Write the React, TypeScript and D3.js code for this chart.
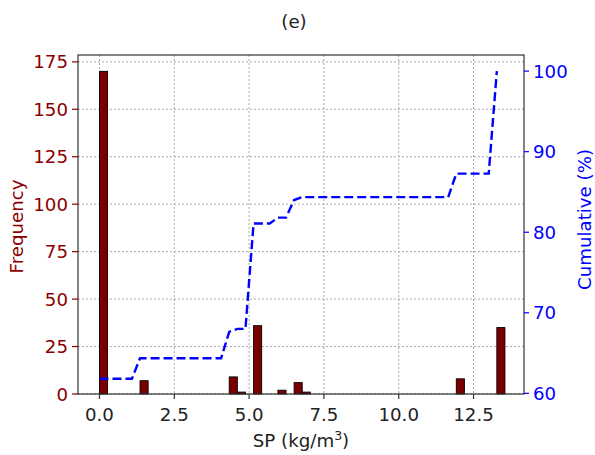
import React from "react";
import * as d3 from "d3";

// Histogram counts: 50 equal bins from 0 to 13.55 kg/m3
const binMin = 0;
const binMax = 13.55;
const counts: number[] = [
  170, 0, 0, 0, 0, 7, 0, 0, 0, 0,
  0, 0, 0, 0, 0, 0, 9, 1, 0, 36,
  0, 0, 2, 0, 6, 1, 0, 0, 0, 0,
  0, 0, 0, 0, 0, 0, 0, 0, 0, 0,
  0, 0, 0, 0, 8, 0, 0, 0, 0, 35,
];
const xTicks = [0, 2.5, 5, 7.5, 10, 12.5];
const yLeftTicks = [0, 25, 50, 75, 100, 125, 150, 175];
const yRightTicks = [60, 70, 80, 90, 100];

const W = 595;
const H = 455;
const L = 78;
const R = 524;
const T = 55;
const B = 394;
const FONT = "DejaVu Sans, sans-serif";
const FS = 18.2;
const RED = "#8b0000";
const BLUE = "#0000ff";

export default function App() {
  const n = counts.length;
  const bw = (binMax - binMin) / n;
  const edges = counts.map((_, i) => binMin + i * bw);
  const total = d3.sum(counts);
  const cum = Array.from(d3.cumsum(counts)).map((c) => (c / total) * 100);

  const span = binMax - binMin;
  const x = d3.scaleLinear().domain([binMin - 0.053 * span, binMax + 0.047 * span]).range([L, R]);
  const yL = d3.scaleLinear().domain([0, 178.6]).range([B, T]);
  const yR = d3.scaleLinear().domain([59.92, 102.0]).range([B, T]);

  const line = d3
    .line<number>()
    .x((_, i) => x(edges[i]))
    .y((d) => yR(d));

  return (
    <svg width={W} height={H} style={{ position: "absolute", left: 0, top: 0 }} fontFamily={FONT}>
      <rect x={0} y={0} width={W} height={H} fill="#fff" />
      {/* grid */}
      {xTicks.map((t) => (
        <line key={"gx" + t} x1={x(t)} x2={x(t)} y1={T} y2={B} stroke="#a8a8a8" strokeWidth={1} strokeDasharray="2,2" />
      ))}
      {yLeftTicks.map((t) => (
        <line key={"gy" + t} x1={L} x2={R} y1={yL(t)} y2={yL(t)} stroke="#a8a8a8" strokeWidth={1} strokeDasharray="2,2" />
      ))}
      {/* bars */}
      {counts.map((c, i) =>
        c > 0 ? (
          <rect
            key={"b" + i}
            x={x(edges[i])}
            y={yL(c)}
            width={x(edges[i] + bw) - x(edges[i])}
            height={yL(0) - yL(c)}
            fill="#7a0000"
            stroke="#000"
            strokeWidth={0.9}
          />
        ) : null
      )}
      {/* cumulative line */}
      <path d={line(cum) || ""} fill="none" stroke={BLUE} strokeWidth={2.4} strokeDasharray="9,4" />
      {/* frame */}
      <rect x={L} y={T} width={R - L} height={B - T} fill="none" stroke="#333" strokeWidth={1.2} />
      {/* x axis */}
      {xTicks.map((t) => (
        <g key={"xt" + t}>
          <line x1={x(t)} x2={x(t)} y1={B} y2={B + 5} stroke="#333" strokeWidth={1.2} />
          <text x={x(t)} y={421} textAnchor="middle" fontSize={FS} fill="#222">
            {t.toFixed(1)}
          </text>
        </g>
      ))}
      {/* left axis */}
      {yLeftTicks.map((t) => (
        <g key={"yl" + t}>
          <line x1={L - 6} x2={L} y1={yL(t)} y2={yL(t)} stroke={RED} strokeWidth={1.2} />
          <text x={68} y={yL(t)} dy="0.36em" textAnchor="end" fontSize={FS} fill={RED}>
            {t}
          </text>
        </g>
      ))}
      {/* right axis */}
      {yRightTicks.map((t) => (
        <g key={"yr" + t}>
          <line x1={R} x2={R + 5} y1={yR(t)} y2={yR(t)} stroke={BLUE} strokeWidth={1.2} />
          <text x={533} y={yR(t)} dy="0.36em" textAnchor="start" fontSize={FS} fill={BLUE}>
            {t}
          </text>
        </g>
      ))}
      {/* labels */}
      <text x={294} y={28} textAnchor="middle" fontSize={FS} fill="#222">(e)</text>
      <text x={301} y={447} textAnchor="middle" fontSize={FS} fill="#222">
        SP (kg/m<tspan dy={-7} fontSize={12.5}>3</tspan><tspan dy={7}>)</tspan>
      </text>
      <text transform={`translate(23,${(T + B) / 2 + 2}) rotate(-90)`} textAnchor="middle" fontSize={FS} fill={RED}>
        Frequency
      </text>
      <text transform={`translate(578,${(T + B) / 2 - 5}) rotate(-90)`} dy="0.72em" textAnchor="middle" fontSize={FS} fill={BLUE}>
        Cumulative (%)
      </text>
    </svg>
  );
}
